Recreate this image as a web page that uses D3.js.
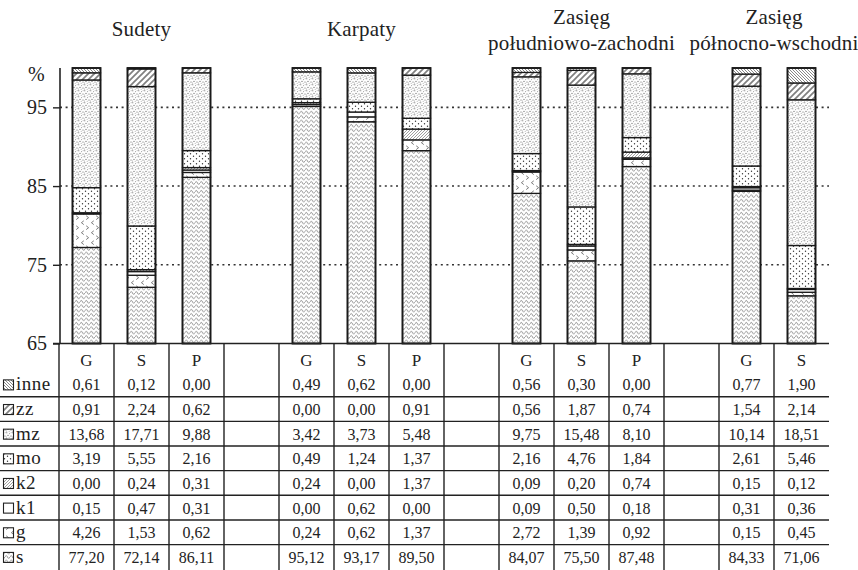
<!DOCTYPE html>
<html>
<head>
<meta charset="utf-8">
<script src="https://cdn.jsdelivr.net/npm/d3@7/dist/d3.min.js"></script>
<style>
  html, body { margin: 0; padding: 0; background: #fff; }
</style>
</head>
<body>
<svg id="chart" width="858" height="570"></svg>
<script>
// Regions (titles) and the table columns under them ("" = spacer column)
const groupTitles = [["Sudety"], ["Karpaty"], ["Zasięg", "południowo-zachodni"], ["Zasięg", "północno-wschodni"]];
const groupOf   = [0, 0, 0, null, 1, 1, 1, null, 2, 2, 2, null, 3, 3];
const colLabels = ["G", "S", "P", "", "G", "S", "P", "", "G", "S", "P", "", "G", "S"];

// Categories, bottom of the stack first
const categories = ["s", "g", "k1", "k2", "mo", "mz", "zz", "inne"];

// Percent shares per bar (Sudety G,S,P | Karpaty G,S,P | pd-zach G,S,P | pn-wsch G,S)
const sVals    = [77.20, 72.14, 86.11, 95.12, 93.17, 89.50, 84.07, 75.50, 87.48, 84.33, 71.06];
const gVals    = [4.26, 1.53, 0.62, 0.24, 0.62, 1.37, 2.72, 1.39, 0.92, 0.15, 0.45];
const k1Vals   = [0.15, 0.47, 0.31, 0.00, 0.62, 0.00, 0.09, 0.50, 0.18, 0.31, 0.36];
const k2Vals   = [0.00, 0.24, 0.31, 0.24, 0.00, 1.37, 0.09, 0.20, 0.74, 0.15, 0.12];
const moVals   = [3.19, 5.55, 2.16, 0.49, 1.24, 1.37, 2.16, 4.76, 1.84, 2.61, 5.46];
const mzVals   = [13.68, 17.71, 9.88, 3.42, 3.73, 5.48, 9.75, 15.48, 8.10, 10.14, 18.51];
const zzVals   = [0.91, 2.24, 0.62, 0.00, 0.00, 0.91, 0.56, 1.87, 0.74, 1.54, 2.14];
const inneVals = [0.61, 0.12, 0.00, 0.49, 0.62, 0.00, 0.56, 0.30, 0.00, 0.77, 1.90];

const yTicks = [65, 75, 85, 95];

const valuesByCat = { s: sVals, g: gVals, k1: k1Vals, k2: k2Vals, mo: moVals, mz: mzVals, zz: zzVals, inne: inneVals };

// Column index of each bar (spacer columns skipped)
const barCols = colLabels.map((l, i) => l ? i : -1).filter(i => i >= 0);

const FONT = "'Liberation Serif', 'Times New Roman', serif";
const INK = "#222";
const svg = d3.select("#chart");
const defs = svg.append("defs");

// ---- fill patterns ----
function pat(id, w, h, build) {
  const p = defs.append("pattern").attr("id", id).attr("patternUnits", "userSpaceOnUse")
    .attr("width", w).attr("height", h);
  p.append("rect").attr("width", w).attr("height", h).attr("fill", "#fff");
  build(p);
}
pat("p-s", 5, 4.4, p => p.append("path").attr("d", "M0,2.6 Q1.25,-0.2 2.5,2.6 T5,2.6")
  .attr("fill", "none").attr("stroke", "#858585").attr("stroke-width", 0.85));
pat("p-g", 10, 10, p => p.append("path").attr("d", "M3.8,0.8 L1.4,2.7 L3.8,4.6 M6.2,5.8 L8.6,7.7 L6.2,9.6")
  .attr("fill", "none").attr("stroke", "#666").attr("stroke-width", 0.85));
pat("p-k1", 4, 4, p => {});
pat("p-k2", 3, 3, p => p.append("path").attr("d", "M-0.75,0.75 L0.75,-0.75 M0,3 L3,0 M2.25,3.75 L3.75,2.25")
  .attr("stroke", "#888").attr("stroke-width", 0.8));
pat("p-mo", 6, 5, p => {
  [[1.5, 1.2], [4.5, 3.7]].forEach(([x, y]) => p.append("circle").attr("cx", x).attr("cy", y).attr("r", 0.7).attr("fill", "#333"));
});
pat("p-mz", 6, 6, p => {
  [[0.8, 0.8, "#555"], [3.6, 1.6, "#999"], [2.0, 3.4, "#666"], [5.0, 4.0, "#555"], [3.2, 5.3, "#aaa"], [0.6, 5.0, "#999"], [5.2, 0.6, "#bbb"]]
    .forEach(([x, y, c]) => p.append("circle").attr("cx", x).attr("cy", y).attr("r", 0.55).attr("fill", c));
});
pat("p-zz", 6, 6, p => p.append("path").attr("d", "M-1.5,1.5 L1.5,-1.5 M0,6 L6,0 M4.5,7.5 L7.5,4.5")
  .attr("stroke", "#808080").attr("stroke-width", 1.7));
pat("p-inne", 3, 3, p => p.append("path").attr("d", "M0,0 L3,3 M-0.75,2.25 L0.75,3.75 M2.25,-0.75 L3.75,0.75")
  .attr("stroke", "#6a6a6a").attr("stroke-width", 0.8));

// ---- scales ----
const x = d3.scaleBand().domain(d3.range(colLabels.length)).range([59, 829]).padding(0);
const y = d3.scaleLinear().domain([65, 100]).range([343.5, 68]).clamp(true);
const barW = 28;
const cx = i => x(i) + x.bandwidth() / 2;

// ---- titles ----
groupTitles.forEach((lines, g) => {
  const cols = d3.range(colLabels.length).filter(i => groupOf[i] === g);
  const center = d3.mean(cols, cx);
  const t = svg.append("text").attr("text-anchor", "middle")
    .style("font-family", FONT).style("font-size", "21px").style("letter-spacing", "0.2px").attr("fill", INK);
  if (lines.length === 1) {
    t.append("tspan").attr("x", center).attr("y", 36).text(lines[0]);
  } else {
    t.append("tspan").attr("x", center).attr("y", 24).text(lines[0]);
    t.append("tspan").attr("x", center).attr("y", 50).text(lines[1]);
  }
});

// ---- grid & axis ----
svg.append("g").selectAll("line").data(yTicks.filter(v => v > 65)).join("line")
  .attr("x1", 60).attr("x2", 829).attr("y1", d => y(d)).attr("y2", d => y(d))
  .attr("stroke", "#333").attr("stroke-width", 1.6).attr("stroke-dasharray", "2,3.6");

const axis = svg.append("g").attr("transform", "translate(60,0)")
  .call(d3.axisLeft(y).tickValues(yTicks).tickSize(7).tickPadding(6).tickFormat(d3.format("d")));
axis.select(".domain").remove();
axis.selectAll(".tick line").attr("stroke", INK).attr("stroke-width", 1.4);
axis.selectAll(".tick text").attr("fill", INK)
  .style("font-family", FONT).style("font-size", "20px");
svg.append("line").attr("x1", 60).attr("x2", 60).attr("y1", 68).attr("y2", 343.5)
  .attr("stroke", INK).attr("stroke-width", 1.6);
svg.append("text").attr("x", 28).attr("y", 81).style("font-family", FONT).style("font-size", "20px")
  .attr("fill", INK).text("%");

// ---- stacked bars ----
const stackRows = barCols.map((c, b) => {
  const row = { col: c };
  categories.forEach(k => row[k] = valuesByCat[k][b]);
  return row;
});
const stacked = d3.stack().keys(categories)(stackRows);

const bars = svg.append("g");
stacked.forEach(layer => {
  bars.append("g").selectAll("rect").data(layer).join("rect")
    .attr("x", d => cx(d.data.col) - barW / 2)
    .attr("width", barW)
    .attr("y", d => y(d[1]))
    .attr("height", d => y(d[0]) - y(d[1]))
    .attr("fill", `url(#p-${layer.key})`)
    .attr("stroke", "#1a1a1a").attr("stroke-width", 1.3);
});
bars.append("g").selectAll("rect").data(stackRows).join("rect")
  .attr("x", d => cx(d.col) - barW / 2).attr("width", barW)
  .attr("y", d => y(d3.sum(categories, k => d[k])))
  .attr("height", d => y(65) - y(d3.sum(categories, k => d[k])))
  .attr("fill", "none").attr("stroke", "#1a1a1a").attr("stroke-width", 1.8);

// ---- data table ----
const rowTop = 396.7, rowH = 24.65;
const tableRows = categories.slice().reverse(); // inne first
const rowCenter = i => rowTop - rowH / 2 + 0.5 + i * rowH;
const table = svg.append("g");

// baseline / table top
table.append("line").attr("x1", 53).attr("x2", 829).attr("y1", 343.5).attr("y2", 343.5)
  .attr("stroke", INK).attr("stroke-width", 1.6);
// row separators
table.selectAll("line.row").data(d3.range(tableRows.length - 1)).join("line")
  .attr("class", "row")
  .attr("x1", 0).attr("x2", 829)
  .attr("y1", i => rowTop + i * rowH).attr("y2", i => rowTop + i * rowH)
  .attr("stroke", INK).attr("stroke-width", 1.4);
// column separators
table.selectAll("line.col").data(d3.range(colLabels.length)).join("line")
  .attr("class", "col")
  .attr("x1", i => x(i)).attr("x2", i => x(i))
  .attr("y1", 343.5).attr("y2", 570)
  .attr("stroke", INK).attr("stroke-width", 1.4);

// header
table.selectAll("text.hdr").data(barCols).join("text")
  .attr("class", "hdr").attr("x", cx).attr("y", 366)
  .attr("text-anchor", "middle").attr("fill", INK)
  .style("font-family", FONT).style("font-size", "17px")
  .text(c => colLabels[c]);

const fmt = v => v.toFixed(2).replace(".", ",");
tableRows.forEach((k, r) => {
  const yc = rowCenter(r);
  // legend swatch + label
  table.append("rect").attr("x", 3.5).attr("y", yc - 5).attr("width", 10).attr("height", 10)
    .attr("fill", `url(#p-${k})`).attr("stroke", INK).attr("stroke-width", 1.1);
  table.append("text").attr("x", 16).attr("y", yc + 5.5).attr("fill", INK)
    .style("font-family", FONT).style("font-size", "19px").style("letter-spacing", "0.5px").text(k);
  table.append("g").selectAll("text").data(valuesByCat[k]).join("text")
    .attr("x", (v, b) => cx(barCols[b])).attr("y", yc + 5.5)
    .attr("text-anchor", "middle").attr("fill", INK)
    .style("font-family", FONT).style("font-size", "16px")
    .text(fmt);
});
</script>
</body>
</html>
